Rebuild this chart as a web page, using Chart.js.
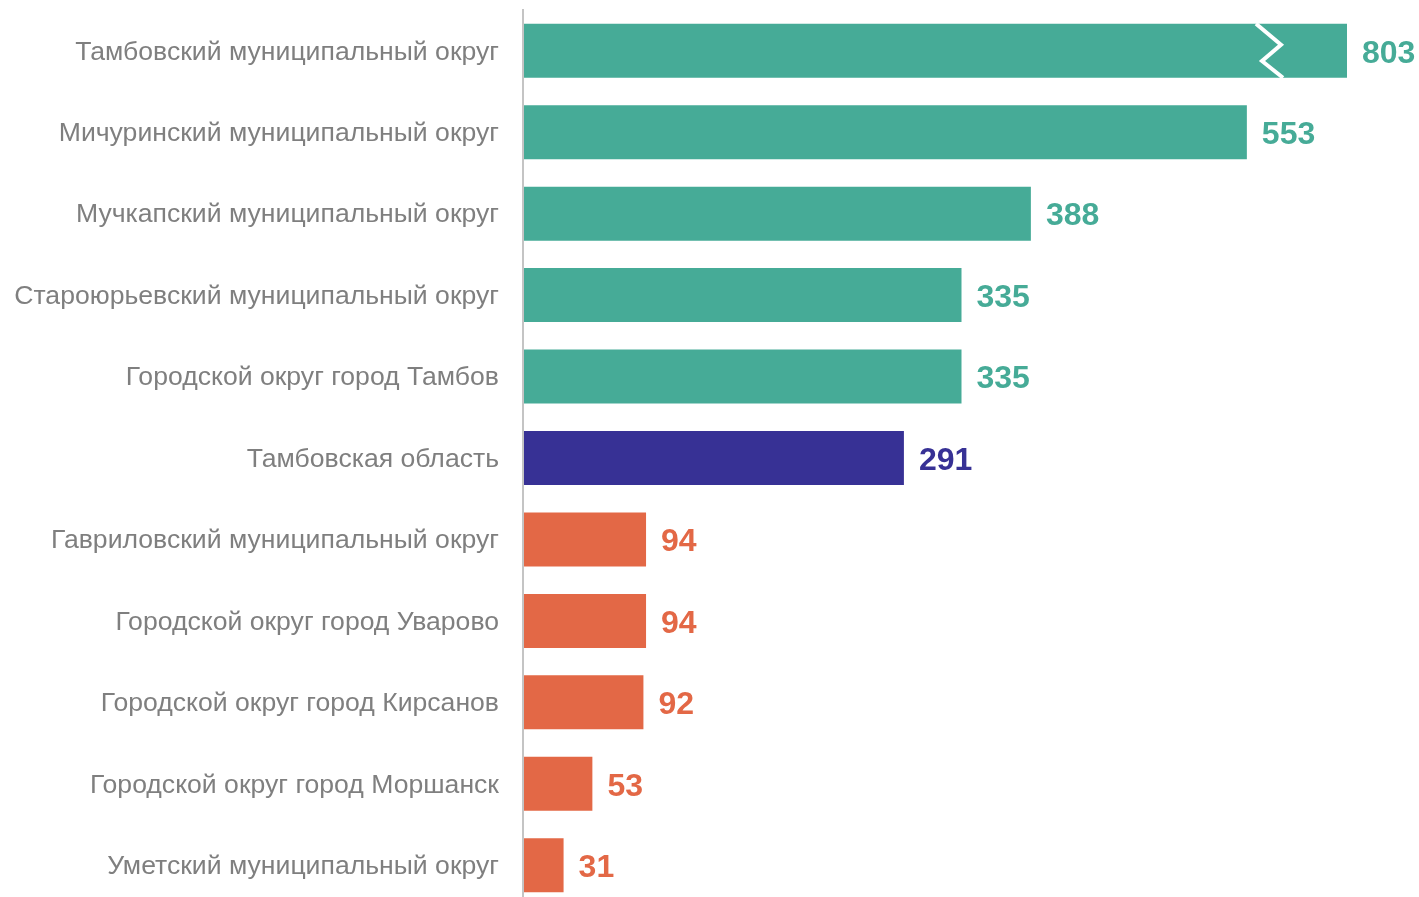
<!DOCTYPE html>
<html>
<head>
<meta charset="utf-8">
<script src="https://cdn.jsdelivr.net/npm/chart.js@4/dist/chart.umd.min.js"></script>
<style>
html,body{margin:0;padding:0;background:#fff;overflow:hidden;}
canvas{display:block;}
</style>
</head>
<body>
<canvas id="c" width="1419" height="906"></canvas>
<script>
const categories = [
  "Тамбовский муниципальный округ",
  "Мичуринский муниципальный округ",
  "Мучкапский муниципальный округ",
  "Староюрьевский муниципальный округ",
  "Городской округ город Тамбов",
  "Тамбовская область",
  "Гавриловский муниципальный округ",
  "Городской округ город Уварово",
  "Городской округ город Кирсанов",
  "Городской округ город Моршанск",
  "Уметский муниципальный округ"
];
const values = [803, 553, 388, 335, 335, 291, 94, 94, 92, 53, 31];
const groups = ["high","high","high","high","high","region","low","low","low","low","low"];
const brokenBars = [true,false,false,false,false,false,false,false,false,false,false];
// visible range of the value axis (the largest bar is shown broken)
const axisMax = 629.5;

const palette = {high:"#46AB97", region:"#373195", low:"#E36846"};
const colors = groups.map(g => palette[g]);

const valueLabels = {
  id: "valueLabels",
  afterDatasetsDraw(chart) {
    const ctx = chart.ctx;
    const area = chart.chartArea;
    const meta = chart.getDatasetMeta(0);
    ctx.save();
    meta.data.forEach((bar, i) => {
      const end = Math.min(bar.x, area.right);
      if (brokenBars[i]) {
        const top = bar.y - bar.height / 2;
        const bot = bar.y + bar.height / 2;
        const h = bot - top;
        ctx.beginPath();
        ctx.moveTo(end - 91, top);
        ctx.lineTo(end - 66, top + h * 0.39);
        ctx.lineTo(end - 85, top + h * 0.69);
        ctx.lineTo(end - 64, bot);
        ctx.strokeStyle = "#ffffff";
        ctx.lineWidth = 4;
        ctx.lineJoin = "miter";
        ctx.stroke();
      }
      ctx.fillStyle = colors[i];
      ctx.font = "bold 32px 'Liberation Sans', Arial, sans-serif";
      ctx.textAlign = "left";
      ctx.textBaseline = "middle";
      ctx.fillText(String(values[i]), end + 15, bar.y + 3);
    });
    ctx.restore();
  }
};

new Chart(document.getElementById("c"), {
  type: "bar",
  data: {
    labels: categories,
    datasets: [{
      data: values,
      backgroundColor: colors,
      borderWidth: 0,
      categoryPercentage: 1,
      barPercentage: 0.663,
      clip: 0
    }]
  },
  options: {
    indexAxis: "y",
    responsive: false,
    animation: false,
    layout: { padding: { top: 10, right: 72, bottom: 0, left: 0 } },
    plugins: { legend: { display: false }, tooltip: { enabled: false } },
    scales: {
      x: { display: false, min: 0, max: axisMax },
      y: {
        afterFit(scale) { scale.width = 523; scale.paddingTop = 0; scale.paddingBottom = 0; },
        grid: { display: false, drawTicks: false },
        border: { display: true, color: "#c4c4c4", width: 2, z: 1 },
        ticks: {
          padding: 24,
          labelOffset: 1.5,
          color: "#7f7f7f",
          font: { family: "'Liberation Sans', Arial, sans-serif", size: 26.6 }
        }
      }
    }
  },
  plugins: [valueLabels]
});
</script>
</body>
</html>
